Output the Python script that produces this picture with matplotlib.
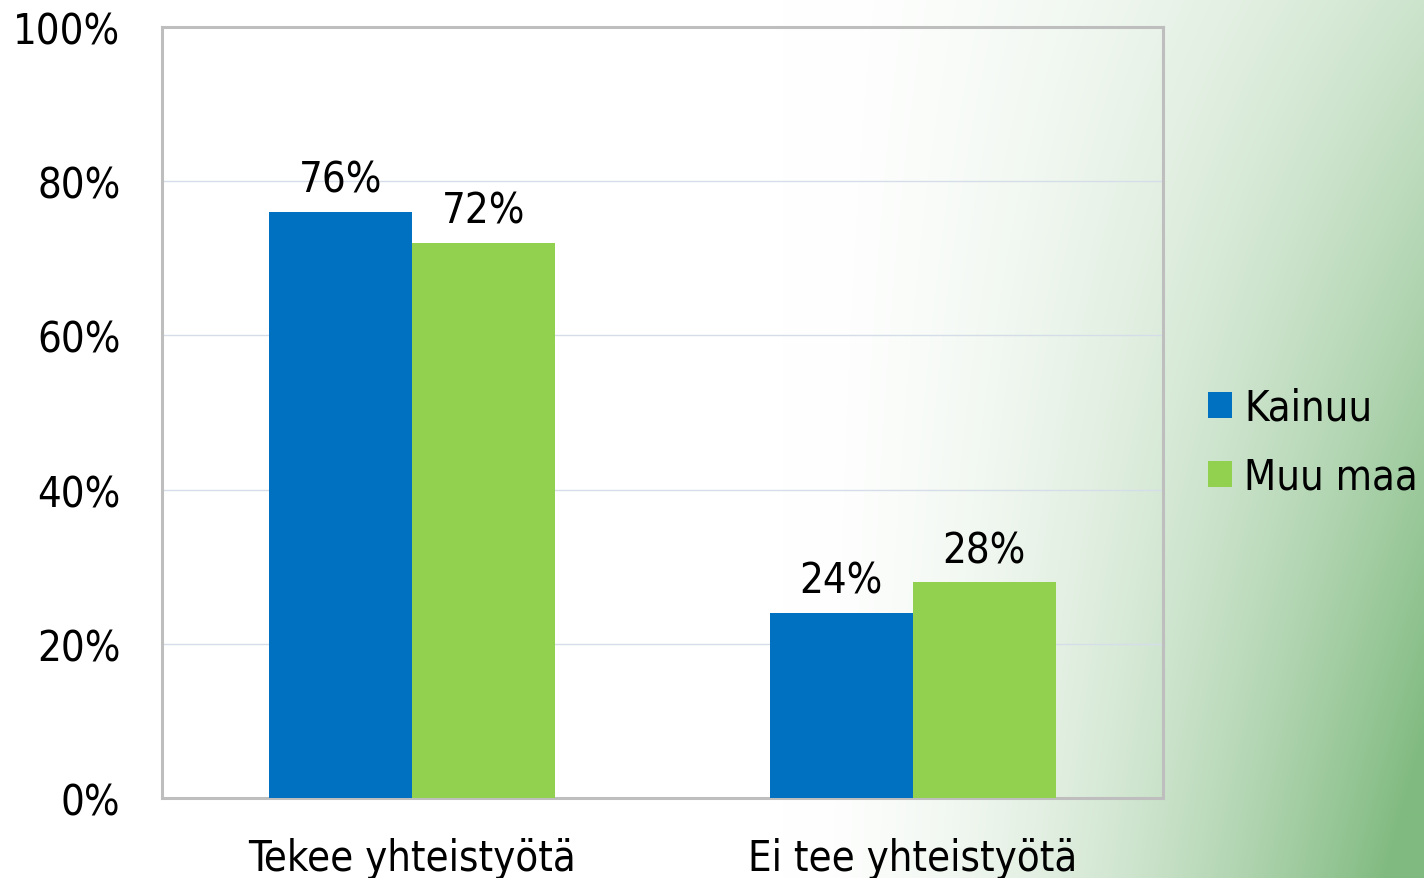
import matplotlib.pyplot as plt
import numpy as np

categories = ['Tekee yhteistyötä', 'Ei tee yhteistyötä']
kainuu = [76, 24]
muu_maa = [72, 28]
series_names = ['Kainuu', 'Muu maa']
y_ticks = [0, 20, 40, 60, 80, 100]

BLUE = '#0070C0'
GREEN = '#92D050'

plt.rcParams['font.family'] = 'DejaVu Sans'
plt.rcParams['font.stretch'] = 'condensed'

fig = plt.figure(figsize=(14.24, 8.79), dpi=100)

# soft green background to the right
h, w = 440, 712
u = np.linspace(0, 1, w)[None, :]
v = np.linspace(0, 1, h)[:, None]
k = np.clip((u - 0.55) / 0.45, 0, 1) ** 1.7 * (0.4 + 0.7 * v)
k = np.clip(k, 0, 1)
white = np.array([1.0, 1.0, 1.0])
green = np.array([128, 186, 128]) / 255
bg = white[None, None, :] * (1 - k[..., None]) + green[None, None, :] * k[..., None]
bg_ax = fig.add_axes([0, 0, 1, 1])
bg_ax.imshow(bg, aspect='auto', extent=[0, 1, 0, 1], zorder=0)
bg_ax.axis('off')

ax = fig.add_axes([0.1138, 0.0910, 0.7029, 0.8771])
ax.set_facecolor('none')

x = np.arange(len(categories))
bw = 0.286
b1 = ax.bar(x - bw / 2, kainuu, bw, color=BLUE, label=series_names[0], zorder=3)
b2 = ax.bar(x + bw / 2, muu_maa, bw, color=GREEN, label=series_names[1], zorder=3)

for bars in (b1, b2):
    for rect in bars:
        ax.annotate(f'{rect.get_height():.0f}%',
                    (rect.get_x() + rect.get_width() / 2, rect.get_height()),
                    xytext=(0, 8), textcoords='offset points',
                    ha='center', va='bottom', fontsize=30, color='black')

ax.set_xlim(-0.5, 1.5)
ax.set_ylim(0, 100)
ax.set_yticks(y_ticks)
ax.set_yticklabels([f'{t}%' for t in y_ticks])
ax.set_xticks(x)
ax.set_xticklabels(categories)
ax.tick_params(axis='y', length=0, pad=30, labelsize=30)
ax.tick_params(axis='x', length=0, pad=28, labelsize=30)

ax.grid(axis='y', color='#D5DEE8', linewidth=1.0, zorder=1)
for s in ax.spines.values():
    s.set_color('#BEBEBE')
    s.set_linewidth(2.2)

ax.legend(loc='center left', bbox_to_anchor=(1.028, 0.462), frameon=False,
          fontsize=30, handlelength=0.58, handleheight=0.58,
          handletextpad=0.3, labelspacing=0.65, borderaxespad=0)

fig.savefig('out.png', dpi=100)
